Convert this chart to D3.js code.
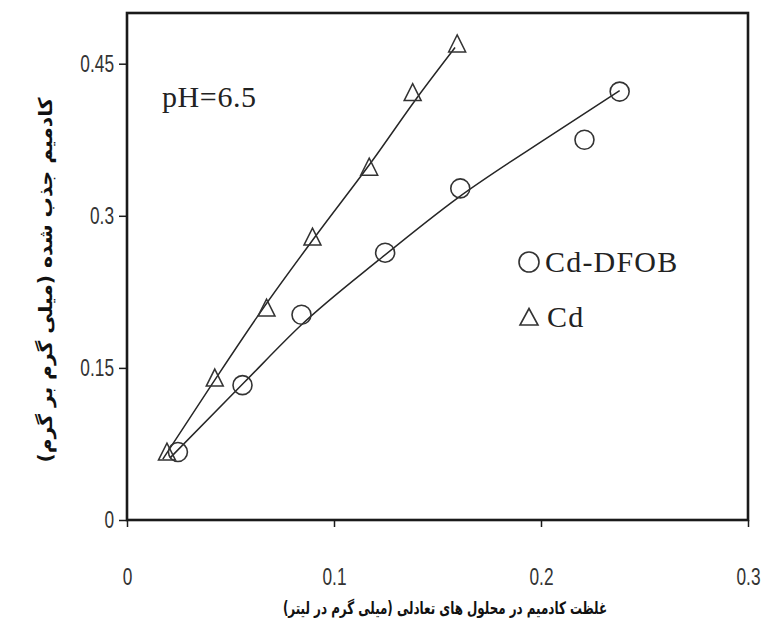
<!DOCTYPE html>
<html><head><meta charset="utf-8">
<script src="https://cdn.jsdelivr.net/npm/d3@7"></script>
<style>body{margin:0;background:#fff}</style>
</head><body><svg id="c" width="770" height="635"></svg>
<script>
// ---- data ----
const xTicks = [0, 0.1, 0.2, 0.3];
const xTickLabels = ["0", "0.1", "0.2", "0.3"];
const yTicks = [0, 0.15, 0.3, 0.45];
const yTickLabels = ["0", "0.15", "0.3", "0.45"];

const cdX = [0.0193, 0.0424, 0.0674, 0.0896, 0.117, 0.138, 0.1595];
const cdY = [0.067, 0.140, 0.209, 0.279, 0.348, 0.4215, 0.4695];
const dfobX = [0.0246, 0.0558, 0.0843, 0.1247, 0.161, 0.221, 0.238];
const dfobY = [0.067, 0.133, 0.2024, 0.2636, 0.327, 0.375, 0.4225];

// fitted curves
const cdFitX = [0.0173, 0.0414, 0.0655, 0.0915, 0.1184, 0.1396, 0.1585];
const cdFitY = [0.060, 0.135, 0.208, 0.281, 0.354, 0.415, 0.466];
const dfobFitX = [0.0207, 0.0568, 0.0843, 0.1218, 0.160, 0.200, 0.238];
const dfobFitY = [0.061, 0.136, 0.1925, 0.2567, 0.318, 0.373, 0.4235];

const seriesNames = ["Cd-DFOB", "Cd"];
const annotation = "pH=6.5";
const xTitle = "غلظت کادمیم در محلول های تعادلی (میلی گرم در لیتر)";
const yTitle = "کادمیم جذب شده (میلی گرم بر گرم)";

// ---- layout ----
const svg = d3.select("#c");
const L = 127, R = 748, T = 13, B = 520;
const x = d3.scaleLinear().domain([0, 0.3]).range([L, R]);
const y = d3.scaleLinear().domain([0, 0.5]).range([B, T]);
const ink = "#1a1a1a";

function condense(sel, k) {
  sel.each(function () {
    const w = this.getComputedTextLength();
    this.setAttribute("textLength", w * k);
    this.setAttribute("lengthAdjust", "spacingAndGlyphs");
  });
}

// axes
const xAxis = d3.axisBottom(x).tickValues(xTicks)
  .tickFormat((d, i) => xTickLabels[i]).tickSizeInner(7).tickSizeOuter(0).tickPadding(41);
const gx = svg.append("g").attr("transform", `translate(0,${B})`).call(xAxis);
gx.select(".domain").remove();
gx.selectAll("line").attr("stroke", ink).attr("stroke-width", 1.5);
gx.selectAll("text").attr("font-family", "Liberation Sans, Arial, sans-serif")
  .attr("font-size", 24).attr("fill", "#333").call(condense, 0.72);

const yAxis = d3.axisLeft(y).tickValues(yTicks)
  .tickFormat((d, i) => yTickLabels[i]).tickSizeInner(8).tickSizeOuter(0).tickPadding(5);
const gy = svg.append("g").attr("transform", `translate(${L},0)`).call(yAxis);
gy.select(".domain").remove();
gy.selectAll("line").attr("stroke", ink).attr("stroke-width", 1.5);
gy.selectAll("text").attr("font-family", "Liberation Sans, Arial, sans-serif")
  .attr("font-size", 24).attr("fill", "#333").call(condense, 0.72);

// frame
svg.append("rect").attr("x", L).attr("y", T).attr("width", R - L).attr("height", B - T)
  .attr("fill", "none").attr("stroke", ink).attr("stroke-width", 2.6);

// fit lines
const line = d3.line().x(d => x(d[0])).y(d => y(d[1])).curve(d3.curveMonotoneX);
svg.append("path").datum(cdFitX.map((v, i) => [v, cdFitY[i]]))
  .attr("d", line).attr("fill", "none").attr("stroke", "#262626").attr("stroke-width", 1.5);
svg.append("path").datum(dfobFitX.map((v, i) => [v, dfobFitY[i]]))
  .attr("d", line).attr("fill", "none").attr("stroke", "#262626").attr("stroke-width", 1.5);

// markers
const triPath = "M0,-9L8.5,8L-8.5,8Z";
svg.append("g").selectAll("circle").data(dfobX.map((v, i) => [v, dfobY[i]])).join("circle")
  .attr("cx", d => x(d[0])).attr("cy", d => y(d[1])).attr("r", 9.5)
  .attr("fill", "none").attr("stroke", "#333").attr("stroke-width", 1.6);
svg.append("g").selectAll("path").data(cdX.map((v, i) => [v, cdY[i]])).join("path")
  .attr("transform", d => `translate(${x(d[0])},${y(d[1])})`).attr("d", triPath)
  .attr("fill", "none").attr("stroke", "#333").attr("stroke-width", 1.5);

// annotation
const serif = "Liberation Serif, Times New Roman, serif";
svg.append("text").attr("x", 162).attr("y", 107).text(annotation)
  .attr("font-family", serif).attr("font-size", 30).attr("letter-spacing", 0.6).attr("fill", "#222");

// legend
svg.append("circle").attr("cx", 529).attr("cy", 262).attr("r", 10)
  .attr("fill", "none").attr("stroke", "#333").attr("stroke-width", 1.6);
svg.append("text").attr("x", 545).attr("y", 272).text(seriesNames[0])
  .attr("font-family", serif).attr("font-size", 30).attr("letter-spacing", 1.2).attr("fill", "#222");
svg.append("path").attr("transform", "translate(529,317)").attr("d", "M0,-8.5L9,8L-9,8Z")
  .attr("fill", "none").attr("stroke", "#333").attr("stroke-width", 1.6);
svg.append("text").attr("x", 547).attr("y", 327).text(seriesNames[1])
  .attr("font-family", serif).attr("font-size", 30).attr("letter-spacing", 1.2).attr("fill", "#222");

// axis titles
svg.append("text").attr("transform", "translate(445,614) scale(0.7,1)").attr("text-anchor", "middle")
  .attr("direction", "rtl").attr("font-family", "DejaVu Sans, sans-serif")
  .attr("font-weight", "bold").attr("font-size", 17).attr("fill", "#111").text(xTitle);
svg.append("text").attr("transform", "translate(52,280) rotate(-90)").attr("text-anchor", "middle")
  .attr("direction", "rtl").attr("font-family", "DejaVu Sans, sans-serif")
  .attr("font-weight", "bold").attr("font-size", 19).attr("fill", "#111")
  .attr("textLength", 365).attr("lengthAdjust", "spacingAndGlyphs").text(yTitle);
</script></body></html>
